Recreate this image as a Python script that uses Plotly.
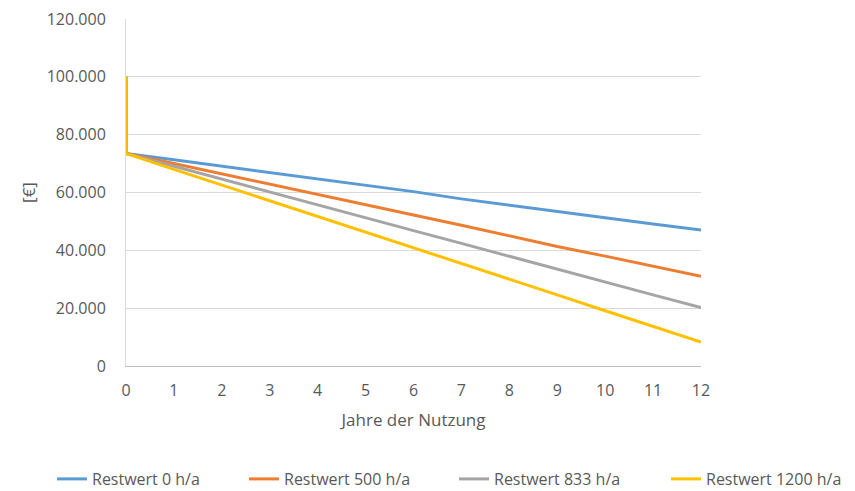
import plotly.graph_objects as go

jahre = [0, 0, 1, 2, 3, 4, 5, 6, 7, 8, 9, 10, 11, 12]
restwert_0 = [100000, 73500, 71300, 69100, 66900, 64700, 62500, 60300, 57800, 55700, 53500, 51300, 49100, 47000]
restwert_500 = [100000, 73500, 70000, 66400, 62900, 59300, 55800, 52200, 48700, 45100, 41300, 38000, 34500, 31000]
restwert_833 = [100000, 73500, 69100, 64600, 60200, 55700, 51300, 46800, 42400, 37900, 33500, 29000, 24600, 20200]
restwert_1200 = [100000, 73500, 68000, 62600, 57200, 51700, 46300, 40900, 35400, 30000, 24600, 19100, 13700, 8300]

series = [
    ("Restwert 0 h/a", restwert_0, "#5B9BD5", 147),
    ("Restwert 500 h/a", restwert_500, "#ED7D31", 165),
    ("Restwert 833 h/a", restwert_833, "#A5A5A5", 167),
    ("Restwert 1200 h/a", restwert_1200, "#FFC000", 150),
]

W, H = 855, 491
font_family = "Open Sans, Noto Sans, sans-serif"
txt = "#595959"

fig = go.Figure()
for name, vals, color, lw in series:
    fig.add_trace(go.Scatter(x=jahre, y=vals, mode="lines", name=name,
                             line=dict(color=color, width=3), legendwidth=lw))

fig.update_layout(
    width=W, height=H,
    margin=dict(l=0, r=0, t=0, b=0, autoexpand=False),
    paper_bgcolor="white", plot_bgcolor="white",
    separators=",.",
    font=dict(family=font_family, size=16, color=txt),
    showlegend=True,
    legend=dict(orientation="h", x=52 / W, xanchor="left", y=12 / H, yanchor="middle",
                font=dict(size=16, color=txt), itemwidth=30, tracegroupgap=0,
                bgcolor="rgba(0,0,0,0)"),
)
fig.update_xaxes(domain=[126 / W, 701 / W],
                 range=[0, 12], tickmode="linear", tick0=0, dtick=1,
                 showgrid=False, showline=True, linecolor="#BFBFBF", linewidth=1,
                 ticks="", ticklabelstandoff=10, zeroline=False,
                 title=dict(text="Jahre der Nutzung", font=dict(size=17, color=txt), standoff=13))
fig.update_yaxes(domain=[(H - 366) / H, (H - 19) / H],
                 range=[0, 120000], tickmode="linear", tick0=0, dtick=20000,
                 tickformat=",.0f", showgrid=True, gridcolor="#D9D9D9", gridwidth=1,
                 showline=True, linecolor="#D9D9D9", linewidth=1, zeroline=False,
                 ticks="", ticklabelstandoff=16,
                 title=dict(text="[€]", font=dict(size=17, color=txt), standoff=6))

fig.write_html("out.html")
